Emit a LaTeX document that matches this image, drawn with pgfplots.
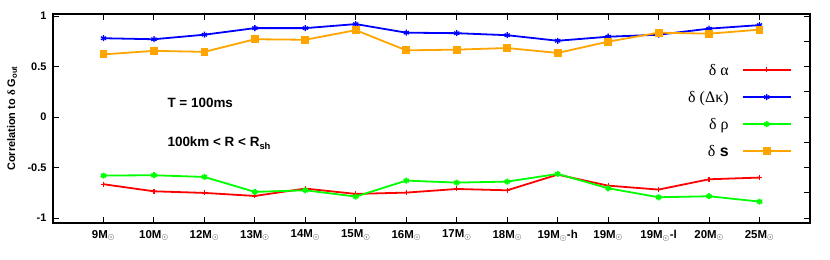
\documentclass[border=0pt]{standalone}
\usepackage{pgfplots}
\pgfplotsset{compat=1.18}
\usepackage{fontspec}
\setmainfont{Liberation Sans}
\newfontfamily\gr{Liberation Serif}
\definecolor{cred}{RGB}{255,0,0}
\definecolor{cblue}{RGB}{0,0,255}
\definecolor{cgreen}{RGB}{0,255,0}
\definecolor{corange}{RGB}{255,165,0}
\begin{document}
\begin{tikzpicture}
\pgfplotsset{
  myaxis/.style={
    name=main, at={(0,0)}, anchor=south west,
    scale only axis, width=757bp, height=209bp,
    xmin=-1, xmax=14, ymin=-1.05, ymax=1.02,
    axis line style={line width=1.5bp},
    major tick length=6bp,
    tick style={line width=0.9bp, black},
    /pgf/number format/assume math mode=true,
  }
}
\begin{axis}[myaxis,
  xtick={0,...,13},
  xticklabels={9M$_\odot$,10M$_\odot$,12M$_\odot$,13M$_\odot$,14M$_\odot$,15M$_\odot$,16M$_\odot$,17M$_\odot$,18M$_\odot$,19M$_\odot$-h,19M$_\odot$,19M$_\odot$-l,20M$_\odot$,25M$_\odot$},
  xtick pos=both,
  ytick={-1,-0.5,0,0.5,1},
  yticklabels={-1,-0.5,0,0.5,1},
  ytick pos=left,
  xticklabel style={font=\bfseries\fontsize{11.5}{13}\selectfont, yshift=-3.5bp},
  yticklabel style={font=\bfseries\fontsize{11}{13}\selectfont, xshift=-3bp},
  ylabel={Correlation to {\gr δ} G\textsubscript{out}},
  every axis y label/.style={at={(axis description cs:0,0.5)}, xshift=-41bp, rotate=90, anchor=center, font=\bfseries\fontsize{11}{13}\selectfont},
  legend plot pos=right,
  legend cell align=right,
  legend style={draw=none, fill=none, at={(axis description cs:0.9802,0.78)}, anchor=north east,
    font=\fontsize{16}{18}\selectfont, row sep=10.5bp,
    /tikz/every odd column/.append style={column sep=11bp}},
  legend image code/.code={
    \draw[#1, mark=none, line width=2.2bp] (0bp,0.5bp) -- (48bp,0.5bp);
    \draw[#1, only marks] plot coordinates {(24bp,0.5bp)};},
]
\addplot[cred, line width=1.8bp, mark=+, mark size=2.5bp, mark options={line width=1.2bp}] coordinates {
(0,-0.666) (1,-0.736) (2,-0.752) (3,-0.782) (4,-0.709) (5,-0.762) (6,-0.749) (7,-0.713) (8,-0.726) (9,-0.571) (10,-0.680) (11,-0.719) (12,-0.617) (13,-0.600)};
\addlegendentry{{\gr δ α}}
\addplot[cblue, line width=1.8bp, mark=asterisk, mark size=3bp, mark options={line width=1.3bp}] coordinates {
(0,0.780) (1,0.770) (2,0.815) (3,0.880) (4,0.880) (5,0.920) (6,0.835) (7,0.830) (8,0.810) (9,0.755) (10,0.795) (11,0.815) (12,0.875) (13,0.910)};
\addlegendentry{{\gr δ (Δκ)}}
\addplot[cgreen, line width=1.8bp, mark=asterisk, mark size=3bp, mark options={line width=1.8bp}] coordinates {
(0,-0.580) (1,-0.577) (2,-0.594) (3,-0.742) (4,-0.726) (5,-0.788) (6,-0.630) (7,-0.650) (8,-0.640) (9,-0.564) (10,-0.706) (11,-0.795) (12,-0.785) (13,-0.838)};
\addlegendentry{{\gr δ ρ}}
\addplot[corange, line width=1.8bp, mark=square*, mark size=3bp] coordinates {
(0,0.620) (1,0.655) (2,0.645) (3,0.770) (4,0.765) (5,0.860) (6,0.660) (7,0.667) (8,0.683) (9,0.634) (10,0.746) (11,0.835) (12,0.825) (13,0.865)};
\addlegendentry{{\gr δ} \textbf{s}}
\node[anchor=west, font=\bfseries\fontsize{13.5}{15}\selectfont] at (axis cs:1.2,0.136) {T = 100ms};
\node[anchor=west, font=\bfseries\fontsize{13.5}{15}\selectfont] at (axis cs:1.2,-0.26) {100km < R < R\textsubscript{sh}};
\end{axis}
\begin{axis}[myaxis, hide x axis, axis y line*=right,
  ytick={-1,-0.75,...,1}, yticklabels={}]
\end{axis}
\pgfresetboundingbox
\useasboundingbox (-53bp,-37bp) rectangle (777bp,223bp);
\end{tikzpicture}
\end{document}
